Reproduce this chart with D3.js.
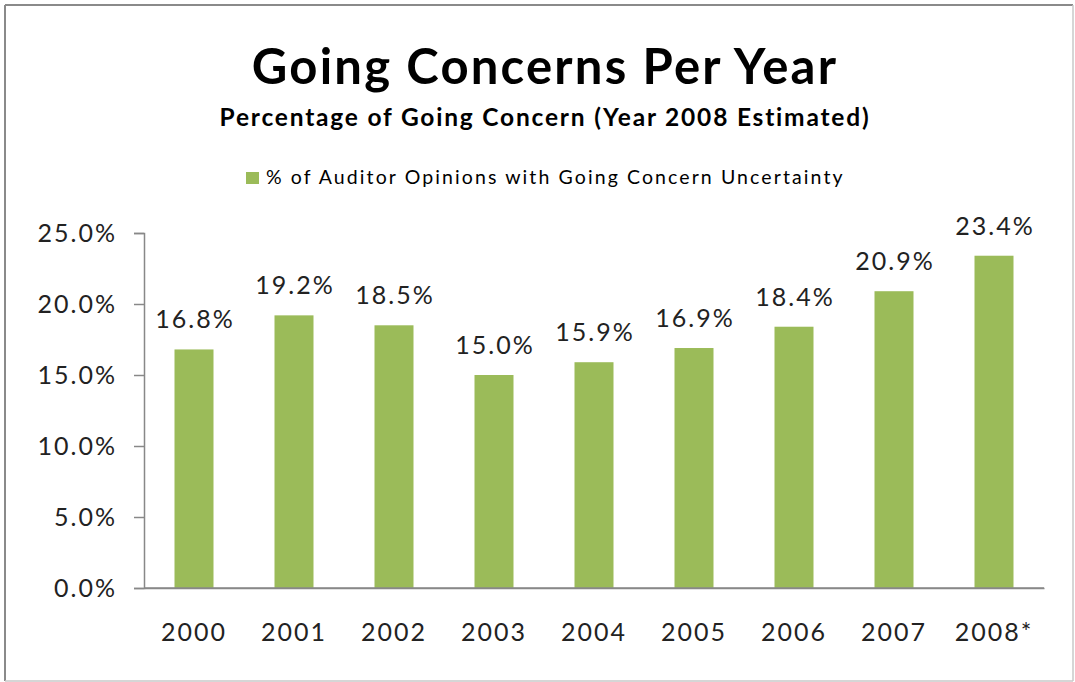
<!DOCTYPE html>
<html><head><meta charset="utf-8">
<script src="https://cdn.jsdelivr.net/npm/d3@7"></script>
<style>html,body{margin:0;padding:0;background:#fff;}</style>
</head><body>
<svg id="c" width="1075" height="682"></svg>
<script>
const categories = ["2000","2001","2002","2003","2004","2005","2006","2007","2008*"];
const values = [16.8,19.2,18.5,15.0,15.9,16.9,18.4,20.9,23.4];
const yTicks = [0,5,10,15,20,25];
const seriesName = "% of Auditor Opinions with Going Concern Uncertainty";
const title = "Going Concerns Per Year";
const subtitle = "Percentage of Going Concern (Year 2008 Estimated)";

const svg = d3.select("#c");
const font = "Lato, 'Open Sans', sans-serif";
// frame
svg.append("rect").attr("x",0).attr("y",0).attr("width",1075).attr("height",682).attr("fill","#fff");
svg.append("line").attr("x1",5).attr("y1",5).attr("x2",1073).attr("y2",5).attr("stroke","#8a8a8a").attr("stroke-width",2);
svg.append("line").attr("x1",5).attr("y1",5).attr("x2",5).attr("y2",681).attr("stroke","#8a8a8a").attr("stroke-width",2);
svg.append("line").attr("x1",1073).attr("y1",5).attr("x2",1073).attr("y2",681).attr("stroke","#c8c8c8").attr("stroke-width",1.5);
svg.append("line").attr("x1",5).attr("y1",681).attr("x2",1073).attr("y2",681).attr("stroke","#c8c8c8").attr("stroke-width",1.5);

const x = d3.scaleBand().domain(categories).range([144,1044]).paddingInner(0.61).paddingOuter(0.305);
const y = d3.scaleLinear().domain([0,25]).range([588,233]);

// title
svg.append("text").attr("x",545).attr("y",84).attr("text-anchor","middle")
  .attr("font-family",font).attr("font-weight","bold").attr("font-size",49).attr("letter-spacing",2.2)
  .attr("fill","#000").text(title);
svg.append("text").attr("x",545).attr("y",126).attr("text-anchor","middle")
  .attr("font-family",font).attr("font-weight","bold").attr("font-size",24.5).attr("letter-spacing",1.8)
  .attr("fill","#000").text(subtitle);

// legend
const lg = svg.append("g");
lg.append("rect").attr("x",246).attr("y",172).attr("width",13).attr("height",12).attr("fill","#9BBB59");
lg.append("text").attr("x",266).attr("y",184).attr("font-family",font).attr("font-size",19.5)
  .attr("letter-spacing",2.1).attr("fill","#000").text(seriesName);

// y axis
const yAxis = d3.axisLeft(y).tickValues(yTicks).tickFormat(d=>d.toFixed(1)+"%").tickSize(10).tickPadding(17);
const ya = svg.append("g").attr("transform","translate(144,0)").call(yAxis);
ya.select(".domain").attr("stroke","#888").attr("stroke-width",1.5);
ya.selectAll(".tick line").attr("stroke","#888").attr("stroke-width",1.5);
ya.selectAll(".tick text").attr("font-family",font).attr("font-size",25).attr("letter-spacing",2).attr("fill","#222");

// x axis
const xAxis = d3.axisBottom(x).tickSize(0).tickPadding(35);
const xa = svg.append("g").attr("transform","translate(0,588)").call(xAxis);
xa.select(".domain").attr("stroke","#888").attr("stroke-width",1.5);
xa.selectAll(".tick text").attr("font-family",font).attr("font-size",25).attr("letter-spacing",2).attr("fill","#222");

// bars
svg.append("g").selectAll("rect").data(values).join("rect")
  .attr("x",(d,i)=>x(categories[i])).attr("width",x.bandwidth())
  .attr("y",d=>y(d)).attr("height",d=>y(0)-y(d))
  .attr("fill","#9BBB59");
svg.append("line").attr("x1",144).attr("x2",1044).attr("y1",588).attr("y2",588).attr("stroke","#888").attr("stroke-width",1.5);

// labels
svg.append("g").selectAll("text").data(values).join("text")
  .attr("x",(d,i)=>x(categories[i])+x.bandwidth()/2+1).attr("y",d=>y(d)-21)
  .attr("text-anchor","middle").attr("font-family",font).attr("font-size",25).attr("letter-spacing",2).attr("fill","#222")
  .text(d=>d.toFixed(1)+"%");
</script>
</body></html>
